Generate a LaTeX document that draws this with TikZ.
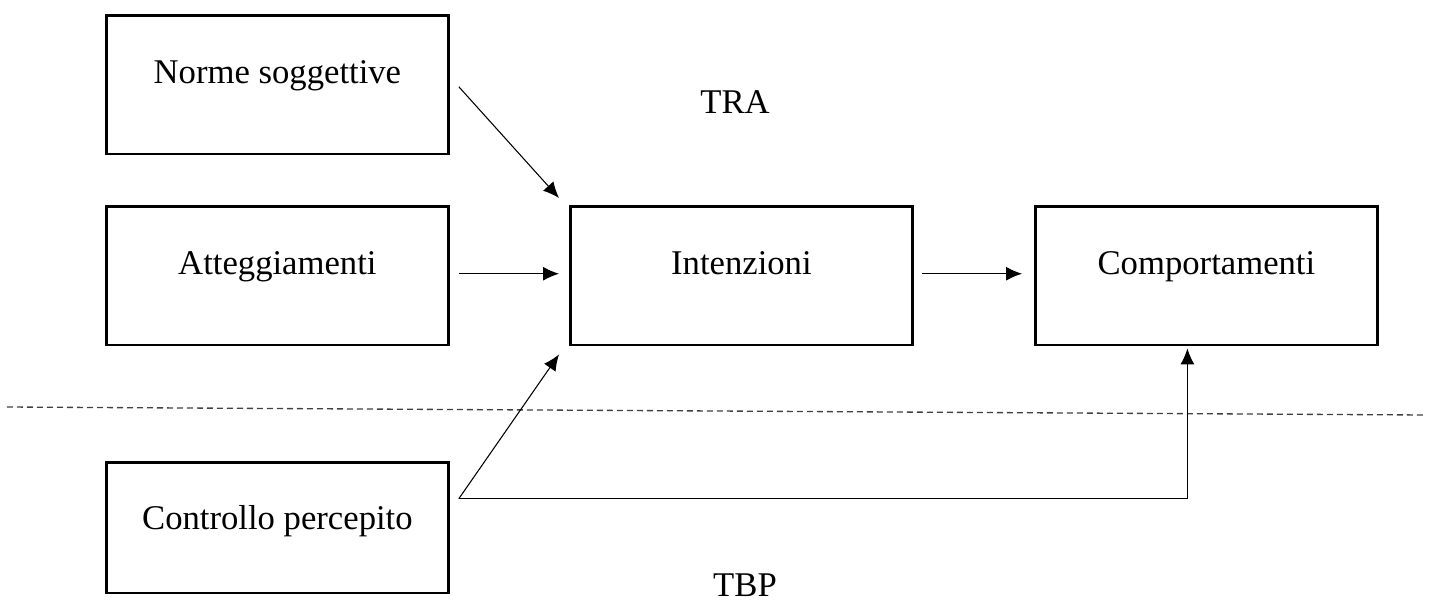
\documentclass[tikz,border=0pt]{standalone}
\usepackage{fontspec}
\setmainfont{Liberation Serif}
\usetikzlibrary{arrows.meta,calc}
\begin{document}
\begin{tikzpicture}[x=0.75pt,y=-0.75pt,
  box/.style={draw,line width=2.1pt,inner sep=0pt,minimum width=342*0.75pt,
    text height=51pt,text depth=53pt,font=\fontsize{26}{30}\selectfont},
  lowbox/.style={box,text height=50pt,text depth=48pt},
  arr/.style={line width=0.8pt,-{Latex[length=12pt,width=10.5pt]}},
  lbl/.style={font=\fontsize{26}{30}\selectfont,inner sep=0pt,anchor=base}]
\useasboundingbox (0,0) rectangle (1432,603);

% theory blocks
\node[box,anchor=north west] (norme) at (105,14) {Norme soggettive};
\node[box,anchor=north west] (att) at (105,205) {Atteggiamenti};
\node[box,anchor=north west] (intenz) at (569,205) {Intenzioni};
\node[box,anchor=north west] (comp) at (1034,205) {Comportamenti};
\node[lowbox,anchor=north west] (ctrl) at (105,461) {Controllo percepito};

% model labels
\node[lbl] (tra) at (735,113) {TRA};
\node[lbl] (tbp) at (745,596) {TBP};

% boundary between the two models
\coordinate (dl) at (7,407);
\coordinate (dr) at (1425,415);
\draw[line width=1pt,black!75,dash pattern=on 4.5pt off 3pt] (dl) -- (dr);

% influences
\draw[arr] ($(norme.east)+(9,2)$) -- ($(intenz.north west)+(-10,-7)$);
\draw[arr] ($(att.east)+(9,-2)$) -- ($(intenz.west)+(-10,-2)$);
\draw[arr] ($(intenz.east)+(8,-2)$) -- ($(comp.west)+(-12,-2)$);
\draw[arr] ($(ctrl.east)+(9,-29)$) -- ($(intenz.south west)+(-10,8)$);
\draw[arr] ($(ctrl.east)+(9,-29)$) -| ($(comp.south)+(-19,2)$);
\end{tikzpicture}
\end{document}
